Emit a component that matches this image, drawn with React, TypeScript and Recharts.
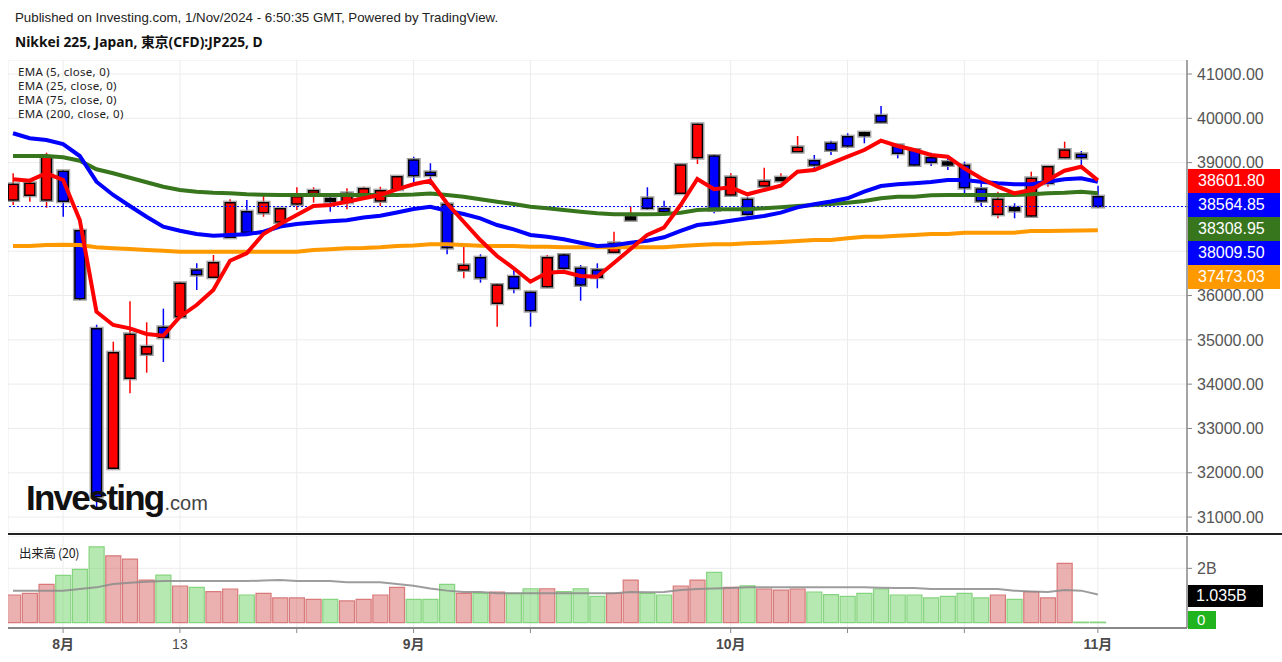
import React from 'react';
import { ComposedChart, Bar, Line, XAxis, YAxis, CartesianGrid, ReferenceLine, Cell } from 'recharts';

// trading days shown (Jul 29 - Nov 1, 2024)
const dates = [
  '7/29', '7/30', '7/31',
  '8/1', '8/2', '8/5', '8/6', '8/7', '8/8', '8/9', '8/13', '8/14', '8/15', '8/16', '8/19', '8/20', '8/21', '8/22', '8/23', '8/26', '8/27', '8/28', '8/29', '8/30',
  '9/2', '9/3', '9/4', '9/5', '9/6', '9/9', '9/10', '9/11', '9/12', '9/13', '9/17', '9/18', '9/19', '9/20', '9/24', '9/25', '9/26', '9/27', '9/30',
  '10/1', '10/2', '10/3', '10/4', '10/7', '10/8', '10/9', '10/10', '10/11', '10/15', '10/16', '10/17', '10/18', '10/21', '10/22', '10/23', '10/24', '10/25', '10/28', '10/29', '10/30', '10/31',
  '11/1',
];

const opens = [
  38156, 38262, 38156, 38804, 37463, 35250, 32101, 34132, 34680, 35283, 35522, 36576, 36412, 37314, 37892, 37870, 37660, 38066, 38307, 38172, 38104, 38246, 38134, 38398,
  39059, 38781, 38059, 36576, 36854, 35825, 36425, 36073, 36199, 36915, 36615, 36576, 36976, 37725, 38195, 37960, 38307, 39111, 39149,
  38269, 38172, 38472, 38608, 39246, 39043, 39436, 39585, 39662, 40059, 39391, 39285, 39111, 38990, 38939, 38404, 37833, 37969, 37795, 38533, 39111, 39188, 38231,
];
const highs = [
  38759, 38623, 39224, 38830, 37480, 35340, 34958, 35870, 35396, 35703, 36300, 36727, 36915, 38172, 38156, 38269, 37980, 38443, 38443, 38231, 38420, 38456, 38456, 38700,
  39133, 38985, 38090, 37118, 36931, 36260, 36615, 36090, 36915, 36953, 36689, 36727, 37441, 38005, 38443, 38140, 38960, 39880, 39170,
  38759, 38231, 38885, 38759, 39601, 39172, 39495, 39662, 39698, 40278, 39410, 39323, 39224, 39149, 39021, 38533, 38344, 38082, 38795, 38920, 39472, 39262, 38479,
];
const lows = [
  38043, 38118, 37982, 37780, 35900, 31160, 32080, 33793, 34258, 34500, 35500, 36125, 36400, 37300, 37400, 37779, 37640, 37930, 38095, 37892, 37946, 38230, 38021, 38380,
  38533, 38495, 36931, 36389, 36290, 35297, 36050, 35297, 36180, 36502, 35883, 36163, 36960, 37720, 37930, 37885, 38300, 38969, 37856,
  38250, 37705, 38460, 38600, 39240, 38872, 39172, 39323, 39436, 39910, 39097, 38930, 38924, 38833, 38269, 38021, 37743, 37743, 37780, 38456, 39100, 38849, 37982,
];
const closes = [
  38510, 38533, 39120, 38127, 35929, 31460, 34710, 35125, 34845, 35057, 36276, 36470, 36741, 38095, 37427, 38095, 37960, 38231, 38366, 38140, 38307, 38411, 38366, 38682,
  38705, 38714, 37080, 36682, 36402, 36238, 36163, 35658, 36854, 36615, 36238, 36412, 37179, 37757, 37969, 37892, 38946, 39865, 37930,
  38668, 37833, 38578, 38646, 39346, 38946, 39285, 39375, 39623, 39917, 39210, 38946, 39007, 38970, 38434, 38134, 38172, 37930, 38646, 38908, 39285, 39111, 38009.5,
];

const ema5 = [
  38623, 38592, 38759, 38608, 37705, 35635, 35335, 35260, 35132, 35093, 35522, 35786, 36125, 36786, 36953, 37389, 37614, 37818, 38021, 38043, 38118, 38195, 38269, 38398,
  38511, 38592, 38082, 37666, 37253, 36892, 36615, 36312, 36515, 36538, 36441, 36425, 36734, 37050, 37366, 37531, 38043, 38630, 38398,
  38443, 38285, 38382, 38479, 38795, 38833, 38984, 39133, 39285, 39495, 39375, 39285, 39172, 39133, 38872, 38646, 38456, 38307, 38382, 38608, 38817, 38908, 38601.8,
];
const ema25 = [
  39662, 39549, 39510, 39420, 39149, 38569, 38269, 38021, 37779, 37554, 37463, 37389, 37350, 37366, 37382, 37441, 37558, 37614, 37648, 37675, 37698, 37761, 37800, 37874,
  37953, 38005, 37915, 37840, 37743, 37592, 37495, 37366, 37328, 37269, 37193, 37118, 37134, 37193, 37238, 37314, 37457, 37592, 37630,
  37689, 37743, 37795, 37870, 37991, 38059, 38122, 38195, 38344, 38472, 38511, 38533, 38562, 38608, 38608, 38569, 38533, 38511, 38511, 38569, 38623, 38646, 38564.85,
];
const ema75 = [
  39149, 39149, 39149, 39120, 39043, 38849, 38759, 38659, 38556, 38456, 38382, 38344, 38321, 38307, 38285, 38276, 38269, 38269, 38269, 38269, 38269, 38269, 38269, 38269,
  38280, 38303, 38269, 38231, 38172, 38118, 38066, 38005, 37969, 37930, 37892, 37856, 37833, 37833, 37833, 37840, 37870, 37930, 37946,
  37946, 37946, 37969, 37991, 38021, 38043, 38066, 38095, 38134, 38195, 38231, 38231, 38262, 38269, 38269, 38269, 38269, 38269, 38285, 38307, 38321, 38344, 38308.95,
];
const ema200 = [
  37118, 37118, 37141, 37147, 37141, 37089, 37066, 37050, 37028, 37012, 36989, 36989, 36989, 36989, 36989, 36989, 36989, 36989, 37028, 37043, 37066, 37073, 37089, 37118,
  37130, 37156, 37156, 37141, 37125, 37118, 37118, 37102, 37102, 37089, 37089, 37089, 37089, 37089, 37089, 37089, 37118, 37141, 37156,
  37156, 37179, 37192, 37208, 37231, 37253, 37253, 37292, 37328, 37328, 37350, 37366, 37389, 37389, 37418, 37418, 37418, 37418, 37457, 37457, 37460, 37466, 37473.03,
];

// volume in billions
const volumes = [
  1.02, 1.08, 1.41, 1.74, 1.96, 2.79, 2.46, 2.34, 1.57, 1.75, 1.35, 1.30, 1.14, 1.24, 1.02, 1.08, 0.91, 0.91, 0.86, 0.86, 0.80, 0.86, 1.02, 1.30,
  0.86, 0.86, 1.41, 1.08, 1.08, 1.13, 1.08, 1.25, 1.25, 1.14, 1.25, 0.97, 1.08, 1.57, 1.08, 1.02, 1.35, 1.57, 1.85,
  1.30, 1.36, 1.24, 1.20, 1.24, 1.13, 1.03, 0.97, 1.08, 1.24, 1.02, 1.02, 0.91, 0.97, 1.08, 0.91, 1.02, 0.86, 1.14, 0.91, 2.18, 0.02, 0.02,
];
const volumeMa = [
  1.18, 1.18, 1.18, 1.18, 1.24, 1.30, 1.42, 1.47, 1.51, 1.53, 1.53, 1.53, 1.53, 1.53, 1.53, 1.55, 1.57, 1.53, 1.53, 1.53, 1.49, 1.49, 1.49, 1.42,
  1.36, 1.26, 1.18, 1.13, 1.13, 1.08, 1.08, 1.08, 1.08, 1.08, 1.08, 1.08, 1.08, 1.13, 1.12, 1.13, 1.20, 1.24, 1.26,
  1.28, 1.30, 1.30, 1.30, 1.30, 1.30, 1.30, 1.30, 1.30, 1.29, 1.28, 1.28, 1.24, 1.24, 1.24, 1.24, 1.24, 1.18, 1.15, 1.13, 1.20, 1.18, 1.035,
];

const priceTicks = [31000, 32000, 33000, 34000, 35000, 36000, 37000, 38000, 39000, 40000, 41000];
// these two labels sit under the last-value boxes in the original
const hiddenTickLabels = [37000, 38000];
const xTicks = [3, 10, 17, 24, 31, 43, 50, 57, 65];
const xTickLabels = ['8月', '13', '', '9月', '', '10月', '', '', '11月'];
const emaLegend = ['EMA (5, close, 0)', 'EMA (25, close, 0)', 'EMA (75, close, 0)', 'EMA (200, close, 0)'];
const lastLabels = [
  { text: '38601.80', color: '#ff0000' },
  { text: '38564.85', color: '#0000ff' },
  { text: '38308.95', color: '#38761d' },
  { text: '38009.50', color: '#0000ff' },
  { text: '37473.03', color: '#ff9900' },
];
const lastClose = 38009.5;

const rows = dates.map((d, i) => ({
  i,
  date: d,
  open: opens[i],
  high: highs[i],
  low: lows[i],
  close: closes[i],
  ema5: ema5[i],
  ema25: ema25[i],
  ema75: ema75[i],
  ema200: ema200[i],
  vol: volumes[i],
  volMa: volumeMa[i],
}));

const W = 1282;
const AXIS_W = 95;
const X_DOMAIN: [number, number] = [-0.3, 70.34];
const axisFont = '"Liberation Sans", Arial, sans-serif';

const Candle = (props: any) => {
  const { x, y, width, height, payload } = props;
  const { open, close, high, low } = payload;
  const up = close >= open;
  const color = up ? '#ff0000' : '#0000ff';
  const yTop = Math.min(y, y + height);
  const h = Math.abs(height);
  const k = h / (high - low);
  const cx = x + width / 2;
  const top = yTop + (high - Math.max(open, close)) * k;
  const bot = yTop + (high - Math.min(open, close)) * k;
  const bw = 10;
  const doji = bot - top < 2.5;
  const bTop = doji ? (top + bot) / 2 - 1.5 : top;
  const bh = doji ? 3 : bot - top;
  return (
    <g>
      <line x1={cx} x2={cx} y1={yTop} y2={yTop + h} stroke={color} strokeWidth={1.5} />
      <rect x={cx - bw / 2 - 1.5} y={bTop - 1.5} width={bw + 3} height={bh + 3} fill="none" stroke="#9a9a9a" strokeWidth={1} />
      <rect x={cx - bw / 2} y={bTop} width={bw} height={bh} fill={doji ? '#000' : color} stroke="#000" strokeWidth={1.5} />
    </g>
  );
};

const XTick = (props: any) => {
  const { x, y, payload } = props;
  const idx = xTicks.indexOf(payload.value);
  const label = xTickLabels[idx] ?? '';
  const bold = label.includes('月');
  return (
    <text x={x} y={y} dy={12} textAnchor="middle" fontSize={14} fontWeight={bold ? 700 : 400} fill="#4a4a4a"
      fontFamily='"Liberation Sans", "Noto Sans CJK JP", sans-serif'>
      {label}
    </text>
  );
};

export default function App() {
  return (
    <div style={{ position: 'absolute', left: 0, top: 0, width: W, height: 662, background: '#fff', overflow: 'hidden' }}>
      <div style={{ position: 'absolute', left: 15, top: 10, fontSize: 13.3, fontFamily: axisFont, color: '#222', whiteSpace: 'nowrap' }}>
        Published on Investing.com, 1/Nov/2024 - 6:50:35 GMT, Powered by TradingView.
      </div>
      <div style={{ position: 'absolute', left: 15, top: 31, fontSize: 13.8, fontWeight: 700, fontFamily: '"Noto Sans", "Noto Sans CJK JP", sans-serif', color: '#111', whiteSpace: 'nowrap' }}>
        Nikkei 225, Japan, 東京(CFD):JP225, D
      </div>

      {/* price pane */}
      <div style={{ position: 'absolute', left: 8, top: 60 }}>
        <ComposedChart width={W - 8} height={472} data={rows} margin={{ top: 0, right: 0, bottom: 0, left: 0 }}>
          <CartesianGrid stroke="#ececec" strokeWidth={1} />
          <XAxis dataKey="i" type="number" domain={X_DOMAIN} ticks={xTicks} allowDataOverflow hide />
          <YAxis
            orientation="right"
            width={AXIS_W}
            type="number"
            domain={[30663, 41316]}
            allowDataOverflow
            ticks={priceTicks}
            tickFormatter={(v: number) => (hiddenTickLabels.includes(v) ? '' : v.toFixed(2))}
            tick={{ fill: '#555', fontSize: 16, fontFamily: axisFont }}
            tickSize={5}
            tickMargin={5}
            axisLine={{ stroke: '#888', strokeWidth: 1.5 }}
            tickLine={{ stroke: '#888' }}
          />
          <ReferenceLine y={lastClose} stroke="#0000ff" strokeDasharray="2 2" strokeWidth={1} />
          <Line dataKey="ema200" type="linear" stroke="#ff9900" strokeWidth={4} dot={false} isAnimationActive={false} />
          <Line dataKey="ema75" type="linear" stroke="#38761d" strokeWidth={4} dot={false} isAnimationActive={false} />
          <Line dataKey="ema25" type="linear" stroke="#0000ff" strokeWidth={4} dot={false} isAnimationActive={false} />
          <Line dataKey="ema5" type="linear" stroke="#ff0000" strokeWidth={4} dot={false} isAnimationActive={false} />
          <Bar dataKey={(r: any) => [r.low, r.high]} barSize={11} shape={<Candle />} isAnimationActive={false} />
        </ComposedChart>
      </div>

      {/* EMA legend */}
      <div style={{ position: 'absolute', left: 18, top: 65, fontSize: 11.5, lineHeight: '14px', fontFamily: '"Noto Sans", sans-serif', color: '#222', letterSpacing: 0.3 }}>
        {emaLegend.map((t) => (
          <div key={t} style={{ height: 14 }}>{t}</div>
        ))}
      </div>

      {/* Investing logo */}
      <div style={{ position: 'absolute', left: 26, top: 478, whiteSpace: 'nowrap', fontFamily: axisFont }}>
        <span style={{ fontSize: 35, fontWeight: 700, color: '#111', letterSpacing: -1.8 }}>Investing</span>
        <span style={{ fontSize: 20, color: '#444', marginLeft: 1 }}>.com</span>
      </div>

      {/* last value labels */}
      {lastLabels.map((l, k) => (
        <div key={l.text} style={{
          position: 'absolute', left: 1188, top: 169 + k * 24, width: 92, height: 24, background: l.color,
          color: '#fff', fontSize: 16, lineHeight: '24px', fontFamily: axisFont, paddingLeft: 10, boxSizing: 'border-box',
        }}>
          {l.text}
        </div>
      ))}

      {/* pane separator */}
      <div style={{ position: 'absolute', left: 8, top: 533, width: W - 8, height: 2, background: '#222' }} />

      {/* volume pane */}
      <div style={{ position: 'absolute', left: 8, top: 536 }}>
        <ComposedChart width={W - 8} height={126} data={rows} margin={{ top: 0, right: 0, bottom: 0, left: 0 }}>
          <CartesianGrid stroke="#ececec" strokeWidth={1} />
          <XAxis
            dataKey="i"
            type="number"
            domain={X_DOMAIN}
            ticks={xTicks}
            allowDataOverflow
            height={34}
            tick={<XTick />}
            tickSize={5}
            tickMargin={4}
            axisLine={{ stroke: '#888', strokeWidth: 2 }}
            tickLine={{ stroke: '#888' }}
          />
          <YAxis
            orientation="right"
            width={AXIS_W}
            type="number"
            domain={[-0.195, 3.19]}
            allowDataOverflow
            ticks={[2]}
            tickFormatter={(v: number) => `${v}B`}
            tick={{ fill: '#555', fontSize: 16, fontFamily: axisFont }}
            tickSize={5}
            tickMargin={5}
            axisLine={{ stroke: '#888', strokeWidth: 1.5 }}
            tickLine={{ stroke: '#888' }}
          />
          <Bar dataKey="vol" barSize={16.7} isAnimationActive={false}>
            {rows.map((r) => (
              <Cell
                key={r.i}
                fill={r.close >= r.open ? 'rgba(210,80,80,0.45)' : 'rgba(110,210,100,0.5)'}
                stroke={r.close >= r.open ? '#d87a7a' : '#86d47f'}
                strokeWidth={1.2}
              />
            ))}
          </Bar>
          <Line dataKey="volMa" type="linear" stroke="#8c8c8c" strokeOpacity={0.85} strokeWidth={2} dot={false} isAnimationActive={false} />
        </ComposedChart>
      </div>

      <div style={{ position: 'absolute', left: 19, top: 543, fontSize: 12.5, fontFamily: '"Noto Sans CJK JP", "Noto Sans", sans-serif', color: '#222', letterSpacing: -0.3 }}>
        出来高 (20)
      </div>
      <div style={{ position: 'absolute', left: 1188, top: 585, width: 75, height: 22, background: '#000', color: '#fff', fontSize: 16, lineHeight: '22px', fontFamily: axisFont, paddingLeft: 8, boxSizing: 'border-box' }}>
        1.035B
      </div>
      <div style={{ position: 'absolute', left: 1188, top: 611, width: 28, height: 18, background: '#22b41e', color: '#fff', fontSize: 15, lineHeight: '18px', fontFamily: axisFont, paddingLeft: 9, boxSizing: 'border-box' }}>
        0
      </div>
    </div>
  );
}
